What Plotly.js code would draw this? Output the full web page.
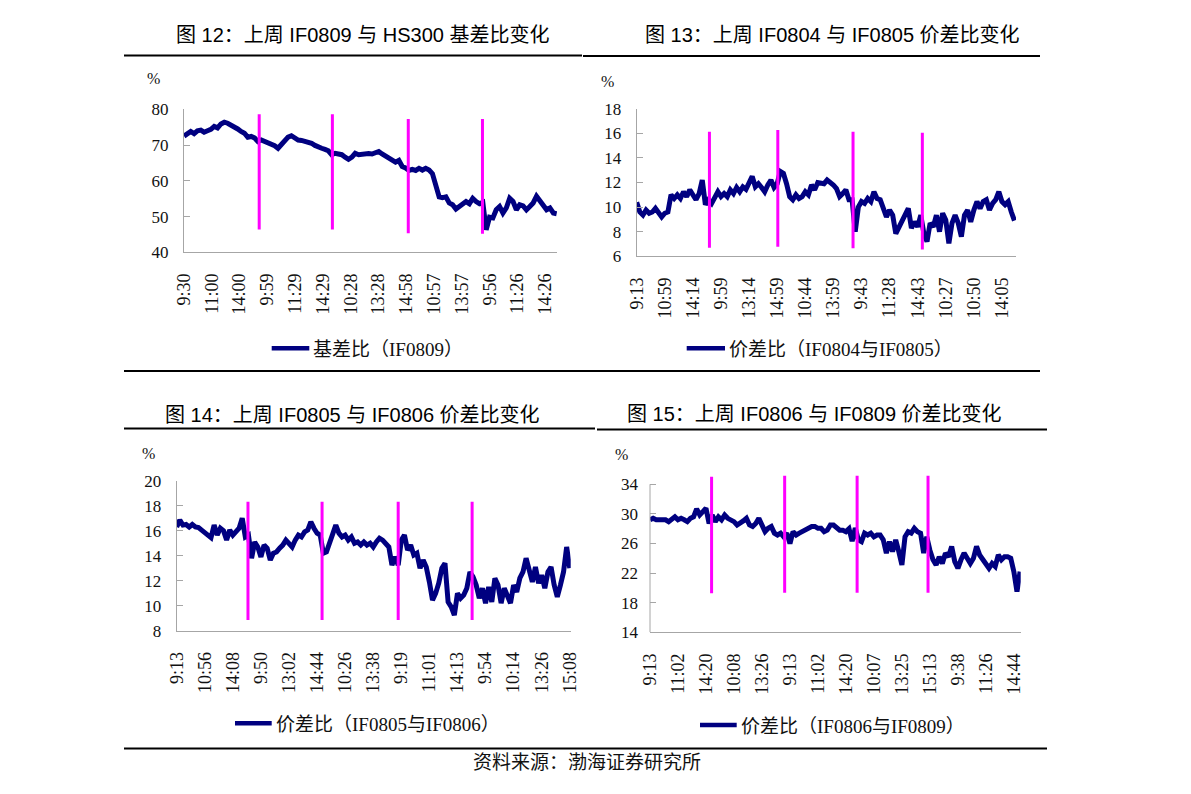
<!DOCTYPE html>
<html>
<head>
<meta charset="utf-8">
<title>上周期指基差比与价差比变化</title>
<script src="https://cdn.plot.ly/plotly-3.0.1.min.js"></script>
<style>
  html, body { margin: 0; padding: 0; background: #fff; }
  #chart { width: 1191px; height: 794px; }
</style>
</head>
<body>
<div id="chart"></div>
<script>
/* Four intraday panels: last week's basis ratio / calendar spread ratios.
   Values were read off the printed charts, one sample every ~3 px. */

// 图 12: IF0809 vs HS300 basis ratio (%)
var labels12 = ["9:30", "11:00", "14:00", "9:59", "11:29", "14:29", "10:28",
  "13:28", "14:58", "10:57", "13:57", "9:56", "11:26", "14:26"];
var basis12 = [72.5, 73.3, 73.8, 73.2, 74.0, 74.2, 73.6, 74.0, 74.4, 75.2,
  74.8, 75.9, 76.4, 76.1, 75.6, 75.2, 74.5, 73.8, 73.3, 72.2,
  72.4, 72.0, 71.0, 71.4, 71.0, 70.5, 70.3, 69.8, 69.1, 70.0,
  71.0, 72.2, 72.6, 71.9, 71.4, 71.3, 71.0, 71.0, 70.5, 69.9,
  69.4, 69.1, 68.8, 68.4, 67.3, 67.7, 67.5, 67.3, 66.6, 66.0,
  66.6, 67.7, 67.3, 67.5, 67.7, 67.6, 67.5, 67.9, 68.2, 67.5,
  66.9, 66.3, 66.0, 65.2, 65.7, 64.0, 63.6, 62.9, 63.2, 62.9,
  63.5, 63.0, 63.5, 63.0, 62.0, 58.5, 55.5, 55.3, 55.5, 53.8,
  53.3, 52.1, 52.8, 53.6, 54.2, 53.6, 55.1, 54.2, 53.6, 54.0,
  46.3, 49.8, 49.6, 51.9, 52.8, 51.0, 52.4, 55.1, 54.2, 51.9,
  53.3, 53.0, 51.9, 52.8, 53.8, 55.7, 54.5, 52.8, 51.9, 52.4,
  51.0, 50.8];
var dayBreak12 = [22.4, 44.2, 66.8, 88.9];
var breakLow12 = [46.4, 46.4, 45.3, 45.2];
var breakHigh12 = [78.6, 78.6, 77.3, 77.3];

// 图 13: IF0804 vs IF0805 spread ratio (%)
var labels13 = ["9:13", "10:59", "14:14", "9:59", "13:14", "14:59", "10:44",
  "13:59", "9:43", "11:28", "14:43", "10:27", "10:50", "14:05"];
var spread13 = [10.4, 9.6, 9.35, 9.76, 9.5, 9.6, 9.9, 9.5, 9.2, 9.5,
  9.6, 11.0, 10.7, 11.0, 10.7, 11.25, 10.85, 11.4, 11.0, 10.6,
  11.1, 12.2, 10.2, 10.6, 10.3, 10.85, 11.25, 10.85, 11.1, 10.85,
  11.4, 11.1, 11.6, 11.25, 11.65, 11.45, 11.9, 12.5, 11.65, 11.9,
  11.6, 11.25, 11.8, 12.2, 11.6, 11.9, 12.9, 12.75, 11.9, 10.85,
  10.6, 11.0, 10.7, 10.85, 11.25, 11.0, 11.8, 11.4, 12.0, 12.0,
  11.9, 12.2, 12.05, 11.8, 11.5, 10.85, 11.1, 11.4, 10.6, 10.6,
  8.0, 10.0, 10.45, 10.3, 10.7, 10.45, 11.25, 10.7, 10.6, 9.76,
  9.2, 9.76, 9.35, 7.85, 8.4, 8.95, 9.5, 9.9, 8.3, 8.8,
  8.4, 9.35, 7.85, 7.2, 8.7, 8.4, 9.35, 8.0, 9.5, 8.95,
  7.05, 8.7, 9.35, 8.7, 7.6, 9.35, 9.76, 8.8, 9.76, 10.45,
  9.9, 10.45, 10.6, 9.76, 10.3, 10.6, 11.25, 10.45, 10.2, 10.45,
  9.6, 8.9];
var dayBreak13 = [23.3, 45.2, 69.3, 91.5];
var breakLow13 = [6.7, 6.78, 6.65, 6.56];
var breakHigh13 = [16.13, 16.27, 16.13, 16.05];

// 图 14: IF0805 vs IF0806 spread ratio (%)
var labels14 = ["9:13", "10:56", "14:08", "9:50", "13:02", "14:44", "10:26",
  "13:38", "9:19", "11:01", "14:13", "9:54", "10:14", "13:26", "15:08"];
var spread14 = [16.3, 16.85, 16.45, 16.5, 16.3, 16.5, 16.3, 16.25, 16.05, 15.87,
  15.65, 15.45, 16.45, 15.65, 16.2, 16.0, 15.25, 16.05, 15.65, 15.9,
  16.2, 17.0, 15.5, 15.65, 13.8, 15.1, 14.7, 13.9, 14.85, 14.6,
  13.65, 14.2, 14.3, 14.6, 14.85, 15.25, 15.0, 14.7, 15.25, 15.65,
  15.5, 15.9, 16.05, 16.7, 16.2, 15.8, 15.65, 14.2, 14.3, 15.1,
  15.9, 16.45, 15.8, 15.5, 15.65, 15.25, 15.5, 15.0, 15.1, 14.85,
  15.1, 14.85, 15.0, 14.7, 15.1, 15.4, 15.25, 15.0, 14.7, 13.25,
  13.9, 13.25, 15.25, 15.65, 14.45, 14.85, 14.05, 14.2, 13.0, 13.65,
  13.1, 11.9, 10.45, 10.98, 11.8, 13.0, 13.4, 10.3, 9.9, 9.25,
  10.98, 10.6, 10.85, 11.4, 12.7, 12.3, 11.65, 10.6, 11.4, 10.2,
  11.5, 10.3, 12.2, 11.65, 10.2, 11.4, 10.85, 10.2, 11.65, 11.1,
  12.2, 12.7, 13.8, 12.85, 11.9, 13.1, 11.8, 12.45, 11.4, 12.7,
  13.1, 11.65, 10.7, 11.65, 12.7, 14.7, 13.0];
var dayBreak14 = [22.85, 46.6, 71.0, 94.7];
var breakLow14 = [8.85, 8.85, 8.85, 8.85];
var breakHigh14 = [18.32, 18.32, 18.32, 18.32];

// 图 15: IF0806 vs IF0809 spread ratio (%)
var labels15 = ["9:13", "11:02", "14:20", "10:08", "13:26", "9:13", "11:02",
  "14:20", "10:07", "13:25", "15:13", "9:38", "11:26", "14:44"];
var spread15 = [29.2, 29.4, 29.2, 29.2, 29.05, 29.2, 28.95, 29.2, 29.6, 29.2,
  29.4, 29.2, 28.95, 29.4, 29.6, 30.67, 29.85, 30.3, 30.75, 28.7,
  29.85, 28.95, 29.6, 29.2, 29.85, 29.4, 29.2, 28.95, 28.5, 28.7,
  29.05, 29.4, 28.5, 28.3, 28.7, 29.4, 28.3, 27.6, 28.05, 28.3,
  27.4, 27.15, 27.4, 26.9, 27.4, 26.0, 27.6, 27.15, 27.4, 27.6,
  27.8, 28.05, 28.3, 28.3, 28.05, 28.05, 27.6, 27.8, 28.5, 28.5,
  28.05, 27.8, 27.8, 27.6, 28.0, 26.3, 28.1, 26.5, 26.25, 27.4,
  27.15, 27.4, 26.9, 27.15, 27.15, 26.5, 24.7, 26.25, 24.9, 26.5,
  24.9, 23.1, 26.9, 27.6, 27.4, 28.05, 27.6, 27.4, 24.7, 26.9,
  25.1, 23.8, 23.1, 24.2, 23.3, 24.7, 24.2, 25.6, 23.55, 22.65,
  23.8, 24.7, 24.0, 23.3, 24.0, 25.6, 24.45, 23.8, 23.3, 22.65,
  23.3, 22.9, 24.45, 23.8, 24.2, 24.2, 24.0, 22.2, 19.5, 22.2];
var dayBreak15 = [19.8, 43.3, 66.6, 89.4];
var breakLow15 = [19.27, 19.35, 19.35, 19.35];
var breakHigh15 = [35.03, 35.17, 35.17, 35.2];

var panelTitles = [
  "图 12：上周 IF0809 与 HS300 基差比变化",
  "图 13：上周 IF0804 与 IF0805 价差比变化",
  "图 14：上周 IF0805 与 IF0806 价差比变化",
  "图 15：上周 IF0806 与 IF0809 价差比变化"
];
var seriesNames = [
  "基差比（IF0809）",
  "价差比（IF0804与IF0805）",
  "价差比（IF0805与IF0806）",
  "价差比（IF0806与IF0809）"
];
var sourceNote = "资料来源：渤海证券研究所";

(function () {
  "use strict";

  var W = 1191, H = 794;
  var NAVY = "#000080", MAGENTA = "#ff00ff", AXIS_GREY = "#a6a6a6";
  var SERIF = "Liberation Serif, Noto Sans CJK SC, serif";
  var SANS = "Liberation Sans, Noto Sans CJK SC, sans-serif";

  // page pixels -> paper fractions
  function fx(p) { return p / W; }
  function fy(p) { return 1 - p / H; }

  var traces = [];
  var shapes = [];
  var annotations = [];
  var layout = {
    width: W, height: H,
    margin: { l: 0, r: 0, t: 0, b: 0 },
    paper_bgcolor: "#fff", plot_bgcolor: "#fff",
    showlegend: false
  };

  // One panel: the series, the magenta day separators, axes, title, key.
  // box = plot area in page pixels; step = samples per labelled tick.
  function addPanel(n, opts) {
    var sfx = n === 1 ? "" : String(n);
    var xa = "x" + sfx, ya = "y" + sfx;

    traces.push({
      type: "scatter", mode: "lines",
      x: opts.values.map(function (v, i) { return i; }),
      y: opts.values,
      xaxis: xa, yaxis: ya,
      line: { color: NAVY, width: 5 },
      hoverinfo: "skip"
    });

    var sx = [], sy = [];
    opts.breaks.forEach(function (b, i) {
      sx.push(b, b, null);
      sy.push(opts.low[i], opts.high[i], null);
    });
    traces.push({
      type: "scatter", mode: "lines",
      x: sx, y: sy, xaxis: xa, yaxis: ya,
      line: { color: MAGENTA, width: 3 },
      hoverinfo: "skip"
    });

    var b = opts.box;
    layout["xaxis" + sfx] = {
      domain: [fx(b.left), fx(b.right)],
      anchor: ya,
      range: [0, opts.xEnd],
      tickmode: "array",
      tickvals: opts.labels.map(function (t, k) { return k * opts.step; }),
      ticktext: opts.labels,
      tickangle: -90,
      ticks: "",
      ticklabelstandoff: 13,
      tickfont: { family: SERIF, size: 18, color: "#111" },
      showline: true, linecolor: AXIS_GREY, linewidth: 1,
      showgrid: false, zeroline: false, fixedrange: true
    };
    layout["yaxis" + sfx] = {
      domain: [fy(b.bottom), fy(b.top)],
      anchor: xa,
      range: opts.yRange,
      tick0: opts.yTick0, dtick: opts.yStep,
      ticks: "inside", ticklen: 6, tickcolor: AXIS_GREY,
      ticklabelstandoff: 11,
      tickfont: { family: SERIF, size: 17, color: "#111" },
      showline: !opts.yLineTop, linecolor: AXIS_GREY, linewidth: 1,
      showgrid: false, zeroline: false, fixedrange: true
    };
    if (opts.yLineTop) {
      // axis line stops at the top tick, the separators poke above it
      shapes.push({
        type: "line", xref: xa + " domain", yref: ya,
        x0: 0, x1: 0, y0: opts.yRange[0], y1: opts.yLineTop,
        line: { color: AXIS_GREY, width: 1 }
      });
    }

    annotations.push({
      xref: "paper", yref: "paper", x: fx(opts.title[0]), y: fy(opts.title[1]),
      xanchor: "center", yanchor: "middle", showarrow: false,
      text: opts.titleText,
      font: { family: SANS, size: 20, color: "#000" }
    });
    annotations.push({
      xref: "paper", yref: "paper", x: fx(opts.pct[0]), y: fy(opts.pct[1]),
      xanchor: "center", yanchor: "middle", showarrow: false,
      text: "%", font: { family: SERIF, size: 16, color: "#111" }
    });

    // legend key drawn by hand so the sample line matches the print
    shapes.push({
      type: "line", xref: "paper", yref: "paper",
      x0: fx(opts.key[0]), x1: fx(opts.key[1]),
      y0: fy(opts.key[2]), y1: fy(opts.key[2]),
      line: { color: NAVY, width: 4.5 }
    });
    annotations.push({
      xref: "paper", yref: "paper", x: fx(opts.key[1] + 2), y: fy(opts.key[2] + 1),
      xanchor: "left", yanchor: "middle", showarrow: false,
      text: opts.name, font: { family: SERIF, size: 19, color: "#111" }
    });
  }

  addPanel(1, {
    values: basis12, labels: labels12, breaks: dayBreak12,
    low: breakLow12, high: breakHigh12,
    box: { left: 184, right: 557, top: 109.3, bottom: 252.3 },
    step: 8.28, xEnd: 111.1, yRange: [40, 80], yTick0: 40, yStep: 10,
    title: [362, 35], titleText: panelTitles[0], pct: [153.3, 78.3],
    key: [271.7, 309.3, 348.3], name: seriesNames[0]
  });
  addPanel(2, {
    values: spread13, labels: labels13, breaks: dayBreak13,
    low: breakLow13, high: breakHigh13,
    box: { left: 636.7, right: 1016, top: 108.7, bottom: 256.3 },
    step: 9, xEnd: 121.5, yRange: [6, 18], yTick0: 6, yStep: 2,
    title: [832.5, 35], titleText: panelTitles[1], pct: [607.3, 81.7],
    key: [686.7, 725, 348.3], name: seriesNames[1]
  });
  addPanel(3, {
    values: spread14, labels: labels14, breaks: dayBreak14,
    low: breakLow14, high: breakHigh14,
    box: { left: 176.7, right: 570.7, top: 480.7, bottom: 630.7 },
    step: 9, xEnd: 126.3, yRange: [8, 20], yTick0: 8, yStep: 2,
    title: [352.5, 415], titleText: panelTitles[2], pct: [148.3, 453.3],
    key: [235, 271.7, 723.3], name: seriesNames[2]
  });
  addPanel(4, {
    values: spread15, labels: labels15, breaks: dayBreak15,
    low: breakLow15, high: breakHigh15,
    box: { left: 650, right: 1020.7, top: 475.4, bottom: 632.3 },
    step: 9, xEnd: 119.2, yRange: [14, 35.2], yTick0: 14, yStep: 4, yLineTop: 34,
    title: [814, 414.3], titleText: panelTitles[3], pct: [621.7, 454.3],
    key: [700, 736.7, 725], name: seriesNames[3]
  });

  // black rules of the report page
  [[55.5, 124, 582], [56, 583, 1040], [371, 124, 1040],
   [428.5, 124, 595], [429.5, 597, 1047], [748.5, 124, 1047]].forEach(function (r) {
    shapes.push({
      type: "line", xref: "paper", yref: "paper",
      x0: fx(r[1]), x1: fx(r[2]), y0: fy(r[0]), y1: fy(r[0]),
      line: { color: "#000", width: 2 }
    });
  });

  annotations.push({
    xref: "paper", yref: "paper", x: fx(587), y: fy(762),
    xanchor: "center", yanchor: "middle", showarrow: false,
    text: sourceNote, font: { family: SERIF, size: 19, color: "#111" }
  });

  layout.shapes = shapes;
  layout.annotations = annotations;

  Plotly.newPlot("chart", traces, layout, { staticPlot: true, displayModeBar: false });
})();
</script>
</body>
</html>
